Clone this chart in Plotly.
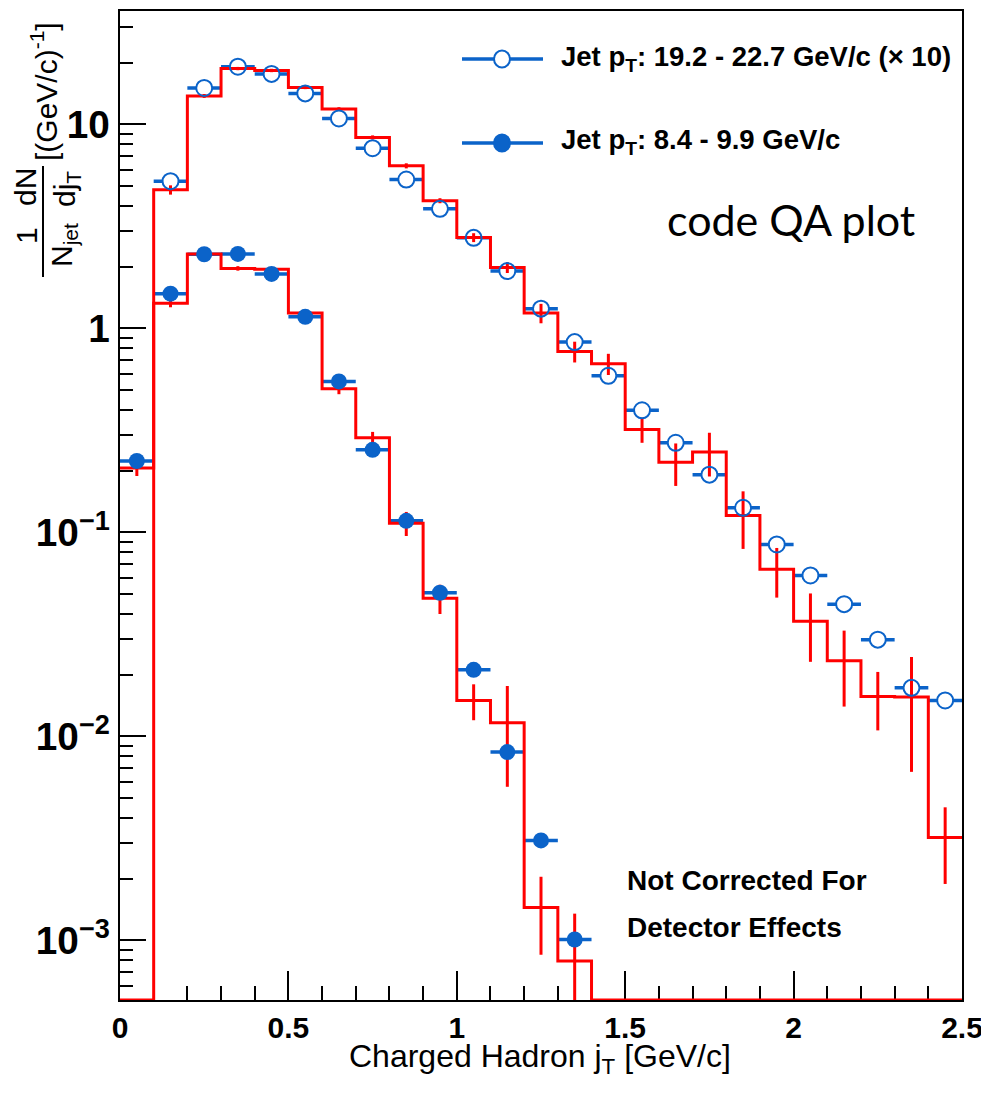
import plotly.graph_objects as go
import math

# ---------------- data ----------------
bin_edges = [0.0, 0.1, 0.2, 0.3, 0.4, 0.5, 0.6, 0.7, 0.8, 0.9, 1.0, 1.1, 1.2, 1.3,
             1.4, 1.5, 1.6, 1.7, 1.8, 1.9, 2.0, 2.1, 2.2, 2.3, 2.4, 2.5]
bin_centers = [0.05, 0.15, 0.25, 0.35, 0.45, 0.55, 0.65, 0.75, 0.85, 0.95, 1.05, 1.15, 1.25,
               1.35, 1.45, 1.55, 1.65, 1.75, 1.85, 1.95, 2.05, 2.15, 2.25, 2.35, 2.45]

# open circles: Jet pT 19.2-22.7 GeV/c (x10), centers 0.15 .. 2.45
high_pts = [5.27, 15.1, 19.2, 17.7, 14.2, 10.7, 7.65, 5.37, 3.86, 2.78, 1.91, 1.25,
            0.857, 0.586, 0.397, 0.275, 0.192, 0.132, 0.0873, 0.0615, 0.0445, 0.0298,
            0.0173, 0.0150]
# filled circles: Jet pT 8.4-9.9 GeV/c, centers 0.05 .. 1.35
low_pts = [0.224, 1.48, 2.31, 2.32, 1.85, 1.14, 0.55, 0.254, 0.114, 0.0506, 0.0212,
           0.00838, 0.00309, 0.00101]

# red histograms (25 bins)
high_hist = [0, 4.78, 13.8, 18.8, 18.4, 15.2, 11.9, 8.64, 6.27, 4.23, 2.79, 1.99, 1.19,
             0.771, 0.671, 0.32, 0.221, 0.248, 0.121, 0.0659, 0.0367, 0.0235, 0.0157,
             0.0156, 0.00319]
high_hist_err = [0, 0.25, 0.3, 0.35, 0.35, 0.3, 0.25, 0.2, 0.18, 0.12, 0.14, 0.12, 0.13,
                 0.09, 0.08, 0.045, 0.052, 0.06, 0.038, 0.018, 0.0135, 0.0095, 0.005,
                 0.0089, 0.0013]
low_hist = [0.207, 1.33, 2.32, 1.97, 1.95, 1.19, 0.506, 0.291, 0.111, 0.0476, 0.0150,
            0.01166, 0.00145, 0.000792, 0, 0, 0, 0, 0, 0, 0, 0, 0, 0, 0]
low_hist_err = [0.018, 0.06, 0.07, 0.05, 0.05, 0.04, 0.03, 0.02, 0.015, 0.0078, 0.003,
                0.006, 0.0006, 0.00056, 0, 0, 0, 0, 0, 0, 0, 0, 0, 0, 0]

legend_labels = ["<b>Jet p<sub>T</sub>: 19.2 - 22.7 GeV/c (\u00d7 10)</b>",
                 "<b>Jet p<sub>T</sub>: 8.4 - 9.9 GeV/c</b>"]

# ---------------- style / layout ----------------
OFF = 8                     # default page body margin
W, H = 989 - OFF, 1098 - OFF
L, R, T, B = 120, 962, 11, 1000   # plot frame in screen pixels
YMIN, YMAX = 5.1e-4, 36.0
BLUE = "#0b63c9"
RED = "#ff0000"
FONT = "Liberation Sans, Arial, sans-serif"


def px(xp):
    return (xp - L) / (R - L)


def py(yp):
    return (B - yp) / (B - T)


fig = go.Figure()

half_w = 0.05
high_x = bin_centers[1:]
low_x = bin_centers[:len(low_pts)]

# blue horizontal bars
for xs, ys in ((high_x, high_pts), (low_x, low_pts)):
    fig.add_trace(go.Scatter(
        x=xs, y=ys, mode="markers",
        marker=dict(size=1, color="rgba(0,0,0,0)"),
        error_x=dict(type="constant", value=half_w, color=BLUE, thickness=3.5, width=0),
        showlegend=False, hoverinfo="skip"))

# white masks for open circles
fig.add_trace(go.Scatter(x=high_x, y=high_pts, mode="markers",
                         marker=dict(symbol="circle", size=16, color="white",
                                     line=dict(width=0)),
                         showlegend=False, hoverinfo="skip"))


def step(vals):
    ys = [max(v, YMIN) for v in vals] + [max(vals[-1], YMIN)]
    return bin_edges, ys


for vals, errs in ((high_hist, high_hist_err), (low_hist, low_hist_err)):
    xs, ys = step(vals)
    fig.add_trace(go.Scatter(x=xs, y=ys, mode="lines", line=dict(color=RED, width=3, shape="hv"),
                             showlegend=False, hoverinfo="skip"))
    cx = [c for c, v in zip(bin_centers, vals) if v > 0]
    cy = [v for v in vals if v > 0]
    ce = [e for e, v in zip(errs, vals) if v > 0]
    fig.add_trace(go.Scatter(x=cx, y=cy, mode="markers",
                             marker=dict(size=1, color="rgba(0,0,0,0)"),
                             error_y=dict(type="data", array=ce, color=RED, thickness=3, width=0),
                             showlegend=False, hoverinfo="skip"))

# open circle outlines
fig.add_trace(go.Scatter(x=high_x, y=high_pts, mode="markers",
                         marker=dict(symbol="circle-open", size=16, color=BLUE,
                                     line=dict(width=2, color=BLUE)),
                         showlegend=False))
# filled circles
fig.add_trace(go.Scatter(x=low_x, y=low_pts, mode="markers",
                         marker=dict(symbol="circle", size=16, color=BLUE,
                                     line=dict(width=0)),
                         showlegend=False))

shapes = []
annotations = []

# legend (manual)
for i, (yl, label) in enumerate(zip([59, 143], legend_labels)):
    shapes.append(dict(type="line", xref="paper", yref="paper", x0=px(462), x1=px(543),
                       y0=py(yl), y1=py(yl), line=dict(color=BLUE, width=3.5)))
    shapes.append(dict(type="circle", xref="paper", yref="paper", xsizemode="pixel",
                       ysizemode="pixel", xanchor=px(502), yanchor=py(yl),
                       x0=-8, x1=8, y0=-8.5, y1=8.5,
                       fillcolor="white" if i == 0 else BLUE,
                       line=dict(color=BLUE, width=2)))
    annotations.append(dict(xref="paper", yref="paper", x=px(559), y=py(yl - 1),
                            xanchor="left", yanchor="middle", showarrow=False,
                            text=label, font=dict(family=FONT, size=27.5, color="black")))

annotations.append(dict(xref="paper", yref="paper", x=px(791), y=py(219), xanchor="center",
                        yanchor="middle", showarrow=False, text="code QA plot",
                        font=dict(family="Lato, Open Sans, sans-serif", size=43, color="black")))
annotations.append(dict(xref="paper", yref="paper", x=px(625), y=py(880), xanchor="left",
                        yanchor="middle", showarrow=False, text="<b>Not Corrected For</b>",
                        font=dict(family=FONT, size=28, color="black")))
annotations.append(dict(xref="paper", yref="paper", x=px(625), y=py(927), xanchor="left",
                        yanchor="middle", showarrow=False, text="<b>Detector Effects</b>",
                        font=dict(family=FONT, size=28, color="black")))

# x title
annotations.append(dict(xref="paper", yref="paper", x=px(540), y=py(1058), xanchor="center",
                        yanchor="middle", showarrow=False,
                        text="Charged Hadron j<sub>T</sub> [GeV/c]",
                        font=dict(family=FONT, size=32, color="black")))

# y title (fraction built from pieces)
ytitle_font = dict(family=FONT, size=30, color="black")
for text, xp_, yp_ in (("1", 26, 236), ("N<sub>jet</sub>", 63, 245), ("dN", 26, 187),
                       ("dj<sub>T</sub>", 66, 189), ("[(GeV/c)<sup>-1</sup>]", 44, 92)):
    annotations.append(dict(xref="paper", yref="paper", x=px(xp_), y=py(yp_),
                            xanchor="center", yanchor="middle", showarrow=False,
                            textangle=-90, text=text, font=ytitle_font))
shapes.append(dict(type="line", xref="paper", yref="paper", x0=px(43), x1=px(43),
                   y0=py(166), y1=py(277), line=dict(color="black", width=2)))

fig.update_layout(
    width=W, height=H,
    margin=dict(l=L - OFF, r=W - (R - OFF), t=T - OFF, b=H - (B - OFF), autoexpand=False),
    paper_bgcolor="white", plot_bgcolor="white",
    shapes=shapes, annotations=annotations,
    showlegend=False,
    xaxis=dict(range=[0, 2.5], dtick=0.5, tick0=0, ticks="inside", ticklen=29, tickwidth=2,
               tickcolor="black", showline=True, linecolor="black", linewidth=2, mirror=True,
               showgrid=False, zeroline=False, layer="below traces",
               tickfont=dict(family=FONT, size=30, color="black", weight="bold"),
               ticklabelstandoff=0,
               minor=dict(dtick=0.1, ticks="inside", ticklen=14, tickwidth=1.5,
                          tickcolor="black", showgrid=False)),
    yaxis=dict(type="log", range=[math.log10(YMIN), math.log10(YMAX)], dtick=1,
               exponentformat="power", ticks="inside", ticklen=26, tickwidth=2,
               tickcolor="black", showline=True, linecolor="black", linewidth=2, mirror=True,
               showgrid=False, zeroline=False, layer="below traces",
               tickfont=dict(family=FONT, size=31, color="black", weight="bold"),
               ticklabelstandoff=2,
               minor=dict(dtick="D1", ticks="inside", ticklen=13, tickwidth=1.5,
                          tickcolor="black", showgrid=False)),
)

fig.write_html("out.html")
